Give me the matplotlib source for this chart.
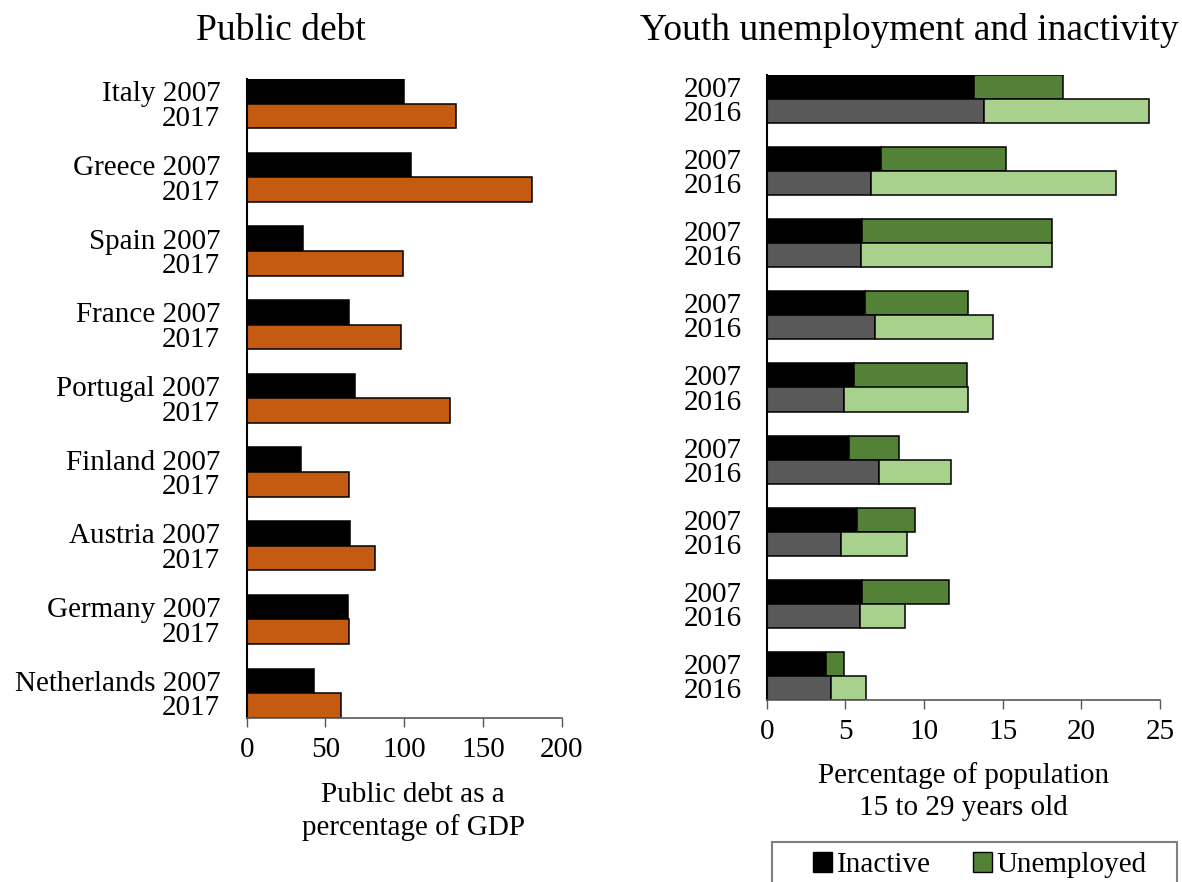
import matplotlib
matplotlib.use("Agg")
import matplotlib.pyplot as plt
from matplotlib.patches import Patch, Rectangle
import numpy as np

plt.rcParams['font.family'] = ['Liberation Serif', 'DejaVu Serif']

countries = ["Italy", "Greece", "Spain", "France", "Portugal", "Finland",
             "Austria", "Germany", "Netherlands"]
debt_2007 = [100, 104, 36, 65, 69, 34.5, 65.6, 64, 43]
debt_2017 = [133, 181, 99, 98, 129, 64.7, 81.5, 65, 60]

inactive_2007 = [13.2, 7.25, 6.06, 6.27, 5.57, 5.26, 5.76, 6.06, 3.75]
unemployed_2007 = [5.62, 7.96, 12.06, 6.55, 7.14, 3.15, 3.65, 5.55, 1.15]
inactive_2016 = [13.8, 6.61, 6.0, 6.91, 4.9, 7.12, 4.7, 5.91, 4.11]
unemployed_2016 = [10.53, 15.62, 12.12, 7.5, 7.92, 4.6, 4.2, 2.88, 2.2]

left_ticks = [0, 50, 100, 150, 200]
right_ticks = [0, 5, 10, 15, 20, 25]

W, H = 1182, 882
fig = plt.figure(figsize=(W / 100, H / 100), dpi=100)

def px_axes(x0, x1, ytop, ybot):
    return fig.add_axes([x0 / W, 1 - ybot / H, (x1 - x0) / W, (ybot - ytop) / H])

FS = 21
EDGE = 1.1

n = len(countries)
y07 = np.arange(n) * 3.0
y17 = y07 + 1.0

# ---------- Left: Public debt ----------
axL = px_axes(246.7, 561.7, 79, 717.7)
axL.barh(y07, debt_2007, height=1.0, color="black", edgecolor="black", linewidth=EDGE)
axL.barh(y17, debt_2017, height=1.0, color="#C55A11", edgecolor="black", linewidth=EDGE)
axL.set_xlim(0, 200)
axL.set_ylim(y17[-1] + 0.5, y07[0] - 0.5)
axL.set_xticks(left_ticks)
axL.set_xticklabels([str(t) for t in left_ticks], fontsize=FS)
yt = []
yl = []
for i, c in enumerate(countries):
    yt += [y07[i], y17[i]]
    yl += [f"{c} 2007", "2017"]
axL.set_yticks(yt)
axL.set_yticklabels(yl, fontsize=FS)
axL.tick_params(axis='y', length=0, pad=19)
axL.tick_params(axis='x', length=6.5, width=1, color="#595959", pad=7.5, direction='out')

# ---------- Right: Youth unemployment ----------
axR = px_axes(766.7, 1160, 75, 700)
axR.barh(y07, inactive_2007, height=1.0, color="black", edgecolor="black", linewidth=EDGE)
axR.barh(y07, unemployed_2007, left=inactive_2007, height=1.0, color="#538135",
         edgecolor="black", linewidth=EDGE)
axR.barh(y17, inactive_2016, height=1.0, color="#595959", edgecolor="black", linewidth=EDGE)
axR.barh(y17, unemployed_2016, left=inactive_2016, height=1.0, color="#A9D18E",
         edgecolor="black", linewidth=EDGE)
axR.set_xlim(0, 25)
axR.set_ylim(y17[-1] + 0.5, y07[0] - 0.5)
axR.set_xticks(right_ticks)
axR.set_xticklabels([str(t) for t in right_ticks], fontsize=FS)
ytr = []
ylr = []
for i in range(n):
    ytr += [y07[i], y17[i]]
    ylr += ["2007", "2016"]
axR.set_yticks(ytr)
axR.set_yticklabels(ylr, fontsize=FS)
axR.tick_params(axis='y', length=0, pad=18)
axR.tick_params(axis='x', length=6.5, width=1, color="#595959", pad=7.5, direction='out')

for ax in (axL, axR):
    ax.spines['top'].set_visible(False)
    ax.spines['right'].set_visible(False)
    ax.spines['left'].set_color("black")
    ax.spines['left'].set_linewidth(1.5)
    ax.spines['bottom'].set_color("#595959")
    ax.spines['bottom'].set_linewidth(1.2)

# Titles
fig.text(281 / W, 1 - 39.5 / H, "Public debt", fontsize=27, ha="center", va="baseline")
fig.text(909 / W, 1 - 39.5 / H, "Youth unemployment and inactivity", fontsize=27,
         ha="center", va="baseline")

# Axis labels
fig.text(413 / W, 1 - 811.5 / H, "Public debt as a\npercentage of GDP", fontsize=FS,
         ha="center", va="center", multialignment="center", linespacing=1.3)
fig.text(963.3 / W, 1 - 792 / H, "Percentage of population\n15 to 29 years old", fontsize=FS,
         ha="center", va="center", multialignment="center", linespacing=1.3)

# Legend
handles = [Patch(facecolor="black", edgecolor="black", linewidth=1.0, label="Inactive"),
           Patch(facecolor="#538135", edgecolor="black", linewidth=1.0, label="Unemployed")]
fig.legend(handles=handles, loc="center left", bbox_to_anchor=(813 / W, 1 - 865 / H),
           ncol=2, frameon=False, fontsize=FS, handlelength=0.66, handleheight=0.66,
           handletextpad=0.15, columnspacing=1.45, borderpad=0, borderaxespad=0)
fig.add_artist(Rectangle((771.7 / W, 1 - 892 / H), (1176.7 - 771.7) / W, (892 - 841.7) / H,
                         transform=fig.transFigure, facecolor="none", edgecolor="#808080",
                         linewidth=1.5, clip_on=False))

fig.savefig("out.png", dpi=100)
